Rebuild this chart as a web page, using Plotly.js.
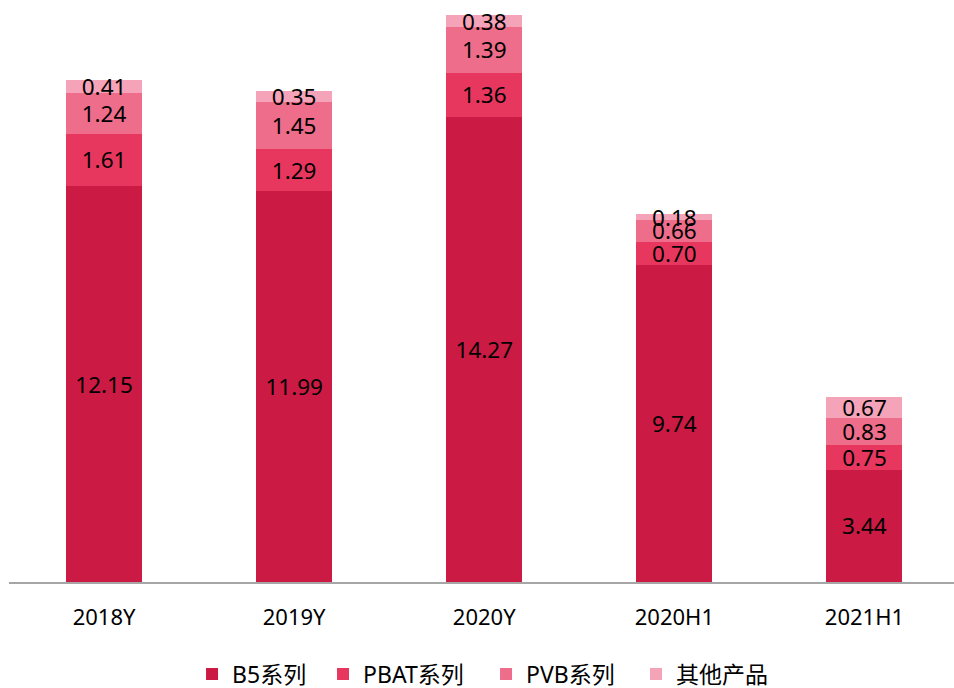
<!DOCTYPE html>
<html><head><meta charset="utf-8">
<script src="https://cdn.plot.ly/plotly-3.0.1.min.js"></script>
<style>html,body{margin:0;padding:0;background:#fff}#chart{width:954px;height:688px}</style>
</head><body><div id="chart"></div>
<script>
const categories = ['2018Y','2019Y','2020Y','2020H1','2021H1'];
const b5 = [12.15, 11.99, 14.27, 9.74, 3.44];
const pbat = [1.61, 1.29, 1.36, 0.70, 0.75];
const pvb = [1.24, 1.45, 1.39, 0.66, 0.83];
const other = [0.41, 0.35, 0.38, 0.18, 0.67];
const names = ['B5系列','PBAT系列','PVB系列','其他产品'];
const colors = ['#CB1A44','#E8375F','#EE6D8A','#F4A3B8'];
const series = [b5, pbat, pvb, other];
const font = '"Noto Sans", "Noto Sans CJK SC", sans-serif';
const legendIds = ['legend','legend2','legend3','legend4'];
const legendX = [0.1937, 0.3323, 0.5048, 0.6635];
const traces = series.map((vals, i) => ({
  type: 'bar', x: categories, y: vals, name: names[i], legend: legendIds[i],
  marker: {color: colors[i]}, width: 0.4,
  text: vals.map(v => v.toFixed(2)), textposition: 'inside',
  insidetextanchor: 'middle', textangle: 0,
  textfont: {color: '#000', size: 22.5, family: font},
  hoverinfo: 'none'
}));
const layout = {
  width: 954, height: 688, barmode: 'stack',
  margin: {l: 9, r: 0, t: 10, b: 106, autoexpand: false},
  paper_bgcolor: '#fff', plot_bgcolor: '#fff',
  font: {family: font, color: '#000'},
  uniformtext: {mode: 'show', minsize: 22.5},
  xaxis: {range: [-0.5, 4.471], showline: true, linecolor: '#A6A6A6', linewidth: 1.5, automargin: false,
    ticks: '', ticklabelstandoff: 15, tickfont: {size: 22, color: '#000', family: font}, showgrid: false, zeroline: false},
  yaxis: {range: [0, 17.55], visible: false, showgrid: false, zeroline: false, automargin: false},
  showlegend: true
};
legendIds.forEach((id, i) => {
  layout[id] = {orientation: 'h', x: legendX[i], xanchor: 'left', y: -0.161, yanchor: 'middle',
    font: {size: 23, color: '#000', family: font}, itemwidth: 30, bgcolor: 'rgba(0,0,0,0)',
    entrywidth: 160, entrywidthmode: 'pixels'};
});
Plotly.newPlot('chart', traces, layout, {displayModeBar: false, staticPlot: true});
</script></body></html>
